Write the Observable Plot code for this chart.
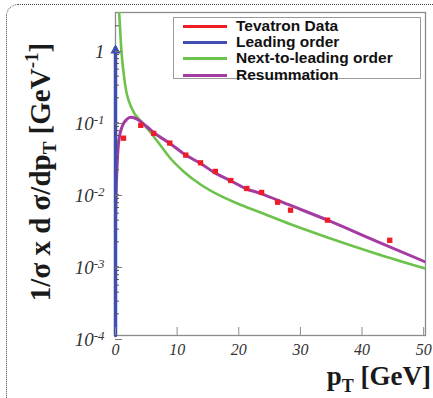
<!DOCTYPE html>
<html><head><meta charset="utf-8">
<script src="https://cdn.jsdelivr.net/npm/d3@7"></script>
<script src="https://cdn.jsdelivr.net/npm/@observablehq/plot@0.6"></script>
<style>
body{margin:0;background:#fff;}
#wrap{position:relative;width:433px;height:398px;overflow:hidden;background:#fff;}
#border{position:absolute;left:6px;top:4px;width:460px;height:430px;border:1.5px dotted #444;border-radius:12px;}
#chart{position:absolute;left:0;top:0;}
#legend{position:absolute;left:173px;top:17px;width:246px;height:60px;border:1.5px solid #9a9a9a;background:#fff;font-family:"Liberation Sans",Arial,sans-serif;font-weight:bold;font-size:15.5px;color:#111;}
.row{position:absolute;left:0;height:16px;width:100%;}
.sw{position:absolute;left:9px;width:44px;height:2.6px;top:7px;}
.lb{position:absolute;left:62px;top:-1px;line-height:18px;white-space:nowrap;}
</style></head>
<body><div id="wrap"><div id="border"></div><div id="chart"></div><div id="legend"></div></div>
<script>
// Tevatron data points
const tevPT  = [1.3, 4.1, 6.2, 8.8, 11.4, 13.8, 16.2, 18.7, 21.3, 23.7, 26.3, 28.4, 34.4, 44.5];
const tevVal = [0.055, 0.083, 0.064, 0.047, 0.032, 0.025, 0.019, 0.0142, 0.011, 0.0097, 0.0071, 0.0055, 0.0040, 0.0021];
// Leading order: delta function at pT = 0
const loPT  = [0, 0];
const loVal = [1e-4, 1];
// Next-to-leading order
const nloPT  = [0.5, 0.6, 0.925, 1.575, 2.65, 4.27, 5.68, 7.31, 8.93, 11.04, 13.8, 16.56, 19.8, 23.54, 28.4, 34.4, 42.2, 50.3];
const nloVal = [4.5, 2.97, 0.97, 0.30, 0.142, 0.092, 0.066, 0.0435, 0.0287, 0.019, 0.0125, 0.0091, 0.0068, 0.0051, 0.0035, 0.0023, 0.00138, 0.00085];
// Resummation
const resPT  = [0, 0.1, 0.25, 0.4, 0.6, 0.9, 1.3, 1.8, 2.4, 3.2, 4.2, 5.2, 6.2, 8.9, 11.4, 13.8, 16.2, 18.7, 21.1, 23.5, 28, 34.4, 42, 50.3];
const resVal = [0.004, 0.01, 0.022, 0.038, 0.055, 0.072, 0.088, 0.1, 0.107, 0.104, 0.092, 0.078, 0.066, 0.046, 0.032, 0.0245, 0.018, 0.0141, 0.011, 0.0094, 0.0066, 0.0040, 0.0021, 0.00105];

const xTicks = [0, 10, 20, 30, 40, 50];
const yMajor = [1e-4, 1e-3, 1e-2, 1e-1, 1];
const yMinorMult = [2, 3, 4, 5, 6, 7, 8, 9];

const legendLabels = ["Tevatron Data", "Leading order", "Next-to-leading order", "Resummation"];
const colors = ["#ee1c25", "#3e4eb2", "#6cc24a", "#a53aa3"];

const yMinor = [];
for (const m of yMajor) for (const k of yMinorMult) { const v = m * k; if (v < 3) yMinor.push(v); }

const tev = tevPT.map((x, i) => ({x, y: tevVal[i]}));
const lo = loPT.map((x, i) => ({x, y: loVal[i]}));
const nlo = nloPT.map((x, i) => ({x, y: nloVal[i]}));
const res = resPT.map((x, i) => ({x, y: resVal[i]}));

const plot = Plot.plot({
  width: 433, height: 398,
  marginLeft: 115, marginRight: 8, marginTop: 12, marginBottom: 63,
  style: {background: "transparent", color: "#333", fontFamily: "Liberation Serif, serif", overflow: "visible"},
  x: {domain: [0, 50.3]},
  y: {type: "log", domain: [1e-4, 3.06]},
  marks: [
    Plot.frame({stroke: "#8c8c8c", strokeWidth: 1.3}),
    Plot.line(nlo, {x: "x", y: "y", stroke: colors[2], strokeWidth: 2.6, curve: "monotone-x", clip: true}),
    Plot.line(res, {x: "x", y: "y", stroke: colors[3], strokeWidth: 3, curve: "monotone-x", clip: true}),
    Plot.line(lo, {x: "x", y: "y", stroke: colors[1], strokeWidth: 3.5}),
    Plot.dot(lo.slice(1), {x: "x", y: "y", symbol: "triangle", r: 3.8, fill: colors[1], stroke: "none", dy: 3}),
    Plot.dot(tev, {x: "x", y: "y", symbol: "square", r: 3, fill: colors[0], stroke: "none"}),
    Plot.axisX({ticks: xTicks, tickSize: -8, tickPadding: 16, stroke: "#8c8c8c", fill: "#333",
      fontSize: 16, fontStyle: "italic", label: null, tickFormat: d => String(d)}),
    Plot.axisY({ticks: yMinor, tickSize: -4, tickFormat: () => "", stroke: "#555", label: null}),
    Plot.axisY({ticks: yMajor, tickSize: -7, tickPadding: 18, stroke: "#777", fill: "#333",
      fontSize: 19, fontStyle: "italic", dy: 4, label: null,
      tickFormat: d => d === 1 ? "1" : "10^" + Math.round(Math.log10(d))})
  ]
});

const svg = d3.select(plot);
svg.selectAll('g[aria-label="y-axis tick label"] text').each(function() {
  const t = this.textContent;
  if (t.startsWith("10^")) {
    const s = d3.select(this); s.text("");
    s.append("tspan").text("10");
    s.append("tspan").attr("dy", "-0.45em").attr("font-size", "0.68em").text(t.slice(3));
  }
});

// axis titles
const yl = svg.append("text")
  .attr("transform", "translate(50,172) rotate(-90)")
  .attr("text-anchor", "middle")
  .attr("font-family", "Liberation Serif, serif").attr("font-weight", "bold")
  .attr("font-size", 29).attr("fill", "#1a1a1a");
yl.append("tspan").text("1/σ x d σ/dp");
yl.append("tspan").attr("dy", 6).attr("font-size", 19).text("T");
yl.append("tspan").attr("dy", -6).text(" [GeV");
yl.append("tspan").attr("dy", -12).attr("font-size", 19).text("-1");
yl.append("tspan").attr("dy", 12).text("]");

const xl = svg.append("text")
  .attr("x", 431).attr("y", 385)
  .attr("text-anchor", "end")
  .attr("font-family", "Liberation Serif, serif").attr("font-weight", "bold")
  .attr("font-size", 27).attr("fill", "#1a1a1a");
xl.append("tspan").text("p");
xl.append("tspan").attr("dy", 7).attr("font-size", 18).text("T");
xl.append("tspan").attr("dy", -7).text(" [GeV]");

document.getElementById("chart").append(plot);

// legend
const lg = d3.select("#legend");
const rowTops = [0, 16, 32, 49];
legendLabels.forEach((name, i) => {
  const r = lg.append("div").attr("class", "row").style("top", rowTops[i] + "px");
  r.append("div").attr("class", "sw").style("background", colors[i]);
  r.append("div").attr("class", "lb").text(name);
});
</script>
</body></html>
